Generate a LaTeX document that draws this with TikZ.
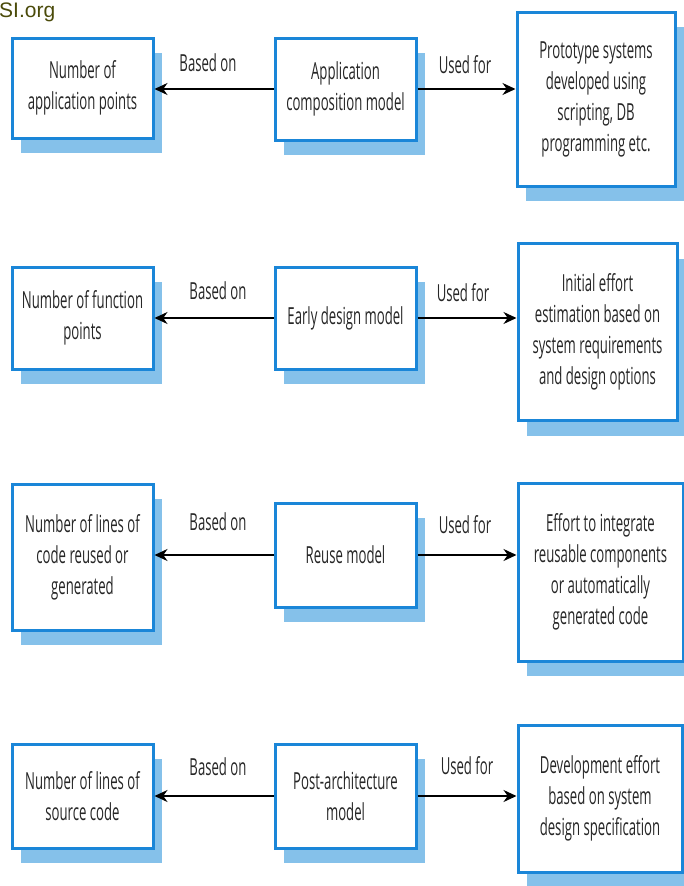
\documentclass[tikz,border=0pt]{standalone}
\usepackage{fontspec}
\setmainfont{Open Sans}[FakeStretch=0.56]
\newfontfamily\sitefont{Liberation Sans}
\usetikzlibrary{arrows.meta,shadows}

\definecolor{boxblue}{RGB}{26,134,216}
\definecolor{shadowblue}{RGB}{133,193,234}
\definecolor{siteolive}{RGB}{75,75,10}

\begin{document}
\begin{tikzpicture}[x=1pt, y=-1pt,
    box/.style={draw=boxblue, line width=3pt, fill=white, align=center,
        inner sep=0pt, text=black!85, font=\fontsize{23.5}{31}\selectfont,
        drop shadow={shadow xshift=9pt, shadow yshift=-15pt,
            fill=shadowblue, draw=none, opacity=1}},
    link/.style={line width=1.6pt, -{Stealth[length=13pt, width=12pt]}},
    lbl/.style={text=black!85, font=\fontsize{23.5}{28}\selectfont}]

    \useasboundingbox (0,0) rectangle (684,886);

    \node[anchor=base west, text=siteolive, font=\sitefont\fontsize{21}{21}\selectfont, inner sep=0pt] (site) at (-1,17) {SI.org};

    % application composition
    \node[box, minimum width=141pt, minimum height=100pt] (apppts) at (82.5,88) {Number of\\application points};
    \node[box, minimum width=141pt, minimum height=102pt] (appmodel) at (345.5,89) {Application\\composition model};
    \node[box, minimum width=158pt, minimum height=174pt] (appuse) at (596,99) {Prototype systems\\developed using\\scripting, DB\\programming etc.};

    \draw[link] (appmodel.west) -- (apppts.east |- appmodel.west);
    \draw[link] (appmodel.east) -- (appuse.west |- appmodel.east);
    \node[lbl] (appbased) at (208,63) {Based on};
    \node[lbl] (appused) at (465,65) {Used for};

    % early design
    \node[box, minimum width=141pt, minimum height=102pt] (fpts) at (82.5,318) {Number of function\\points};
    \node[box, minimum width=141pt, minimum height=102pt] (early) at (345.5,318) {Early design model};
    \node[box, minimum width=159pt, minimum height=177pt] (earlyuse) at (597.5,332) {Initial effort\\estimation based on\\system requirements\\and design options};

    \draw[link] (early.west) -- (fpts.east |- early.west);
    \draw[link] (early.east) -- (earlyuse.west |- early.east);
    \node[lbl] (earlybased) at (218,291) {Based on};
    \node[lbl] (earlyused) at (463,293) {Used for};

    % reuse
    \node[box, minimum width=141pt, minimum height=146pt] (reuseloc) at (82.5,557) {Number of lines of\\code reused or\\generated};
    \node[box, minimum width=141pt, minimum height=104pt] (reuse) at (345.5,555) {Reuse model};
    \node[box, minimum width=165pt, minimum height=178pt] (reuseuse) at (600.5,572) {Effort to integrate\\reusable components\\or automatically\\generated code};

    \draw[link] (reuse.west) -- (reuseloc.east |- reuse.west);
    \draw[link] (reuse.east) -- (reuseuse.west |- reuse.east);
    \node[lbl] (reusebased) at (218,522) {Based on};
    \node[lbl] (reuseused) at (465,525) {Used for};

    % post-architecture
    \node[box, minimum width=141pt, minimum height=104pt] (srcloc) at (82.5,796) {Number of lines of\\source code};
    \node[box, minimum width=141pt, minimum height=104pt] (post) at (345.5,796) {Post-architecture\\model};
    \node[box, minimum width=164pt, minimum height=147pt] (postuse) at (600,798.5) {Development effort\\based on system\\design specification};

    \draw[link] (post.west) -- (srcloc.east |- post.west);
    \draw[link] (post.east) -- (postuse.west |- post.east);
    \node[lbl] (postbased) at (218,767) {Based on};
    \node[lbl] (postused) at (467,766) {Used for};

\end{tikzpicture}
\end{document}
